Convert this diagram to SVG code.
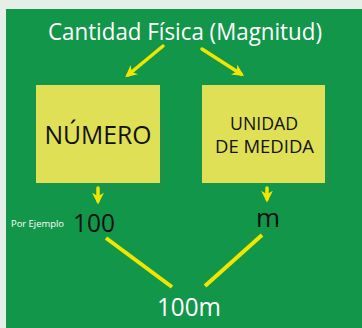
<svg xmlns="http://www.w3.org/2000/svg" width="362" height="328" viewBox="0 0 362 328">
<defs>
<style>
.box{fill:#dfe055;}
.shadow{fill:none;stroke:#6b6b40;stroke-width:0.8;opacity:0.6;}
.t{font-family:"Open Sans","DejaVu Sans",sans-serif;text-anchor:middle;}
.arr{stroke:#f2e600;stroke-width:3.5;fill:none;stroke-linecap:round;}
.ln{stroke:#f2e600;stroke-width:4;fill:none;stroke-linecap:butt;}
</style>
<marker id="ah" viewBox="0 0 10 10" refX="7" refY="5" markerWidth="3.4" markerHeight="3.4" orient="auto" markerUnits="strokeWidth">
<path d="M0,0 L10,5 L0,10 L3,5 Z" fill="#f2e600"/>
</marker>
</defs>
<rect x="0" y="0" width="362" height="328" fill="#e5efe7"/>
<rect x="6" y="9" width="356" height="319" fill="#12964a"/>
<g id="title">
<text class="t" x="185" y="40" font-size="23" fill="#ffffff" textLength="274" lengthAdjust="spacingAndGlyphs">Cantidad Física (Magnitud)</text>
</g>
<g id="numero">
<path class="shadow" d="M163,113 V188 H75"/>
<rect class="box" x="36" y="85" width="124" height="98"/>
<text class="t" x="98" y="144" font-size="26" fill="#111111" textLength="107" lengthAdjust="spacingAndGlyphs">NÚMERO</text>
</g>
<g id="unidad">
<path class="shadow" d="M329,130 V188 H290"/>
<rect class="box" x="202" y="85" width="123" height="98"/>
<text class="t" x="264" y="130" font-size="18" fill="#111111" textLength="68" lengthAdjust="spacingAndGlyphs">UNIDAD</text>
<text class="t" x="264.5" y="153" font-size="18" fill="#111111" textLength="99" lengthAdjust="spacingAndGlyphs">DE MEDIDA</text>
</g>
<g id="ejemplo">
<text x="11" y="227" font-family="'Open Sans','DejaVu Sans',sans-serif" font-size="9" fill="#ffffff" textLength="53" lengthAdjust="spacingAndGlyphs">Por Ejemplo</text>
</g>
<g id="n100">
<text class="t" x="94" y="232" font-size="26" fill="#111111" textLength="42" lengthAdjust="spacingAndGlyphs">100</text>
</g>
<g id="m">
<text class="t" x="268" y="227" font-size="26" fill="#111111">m</text>
</g>
<g id="result">
<text class="t" x="189" y="316" font-size="25" fill="#ffffff" textLength="64" lengthAdjust="spacingAndGlyphs">100m</text>
</g>
<g id="connectors">
<line class="arr" x1="163" y1="46" x2="128" y2="75" marker-end="url(#ah)"/>
<line class="arr" x1="202" y1="49" x2="241" y2="74" marker-end="url(#ah)"/>
<line class="arr" x1="98" y1="188" x2="98" y2="201" marker-end="url(#ah)"/>
<line class="arr" x1="267" y1="188" x2="267" y2="199" marker-end="url(#ah)"/>
<line class="ln" x1="106" y1="238" x2="172" y2="287"/>
<line class="ln" x1="262" y1="235" x2="205" y2="286"/>
</g>
</svg>
